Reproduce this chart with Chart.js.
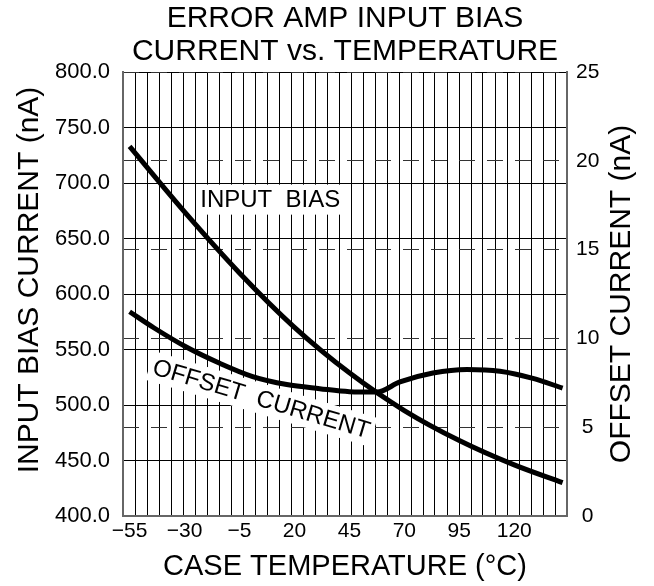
<!DOCTYPE html>
<html>
<head>
<meta charset="utf-8">
<script src="https://cdn.jsdelivr.net/npm/chart.js@4.4.1/dist/chart.umd.min.js"></script>
<style>
  html, body { margin: 0; padding: 0; background: #fff; }
  #wrap { width: 654px; height: 586px; }
</style>
</head>
<body>
<div id="wrap"><canvas id="chart" width="654" height="586"></canvas></div>
<script>
// curves
const biasTemps = [-55, -30, -5, 20, 45, 70, 95, 120, 142];
const biasCurrent = [733, 674, 619, 570, 529, 495, 468, 446, 430]; // nA (left axis)
const offsetTemps = [-55, -44, -29, -14, 1, 16.5, 31.5, 45, 57.5, 68, 83, 98.5, 113.5, 128.5, 142];
const offsetCurrent = [11.5, 10.6, 9.5, 8.6, 7.85, 7.4, 7.17, 7.0, 6.98, 7.55, 8.05, 8.25, 8.15, 7.75, 7.2]; // nA (right axis)

const tempTicks = [-55, -30, -5, 20, 45, 70, 95, 120];
const biasTicks = [400, 450, 500, 550, 600, 650, 700, 750, 800];
const offsetTicks = [0, 5, 10, 15, 20, 25];

const FONT = '"Liberation Sans", Arial, sans-serif';
const X_MIN = -58, X_MAX = 144, GRID_COUNT = 37;

// vertical grid lines are evenly spaced and don't line up with the labels
const gridVals = [];
for (let k = 0; k <= GRID_COUNT; k++) gridVals.push(X_MIN + k * (X_MAX - X_MIN) / GRID_COUNT);

function minus(v) {
  return v < 0 ? '\u2212' + Math.abs(v) : String(v);
}

// text with white box behind it (covers grid)
function boxedText(ctx, text, x, y, angle) {
  ctx.save();
  ctx.translate(x, y);
  ctx.rotate(angle);
  const w = ctx.measureText(text).width;
  ctx.fillStyle = '#fff';
  ctx.fillRect(-w / 2 - 4, -15, w + 8, 30);
  ctx.fillStyle = '#000';
  ctx.textAlign = 'center';
  ctx.textBaseline = 'middle';
  ctx.fillText(text, 0, 1);
  ctx.restore();
}

const labelsPlugin = {
  id: 'curveLabels',
  beforeDatasetsDraw(chart) {
    const { ctx, scales } = chart;
    ctx.save();
    ctx.font = '24px ' + FONT;
    boxedText(ctx, 'INPUT  BIAS', scales.x.getPixelForValue(9), scales.y.getPixelForValue(685), 0);
    boxedText(ctx, 'OFFSET  CURRENT', scales.x.getPixelForValue(5), scales.y2.getPixelForValue(6.6), 16.7 * Math.PI / 180);
    ctx.restore();
  },
  afterDraw(chart) {
    const { ctx, chartArea } = chart;
    const midY = (chartArea.top + chartArea.bottom) / 2;
    ctx.save();
    ctx.font = '30px ' + FONT;
    ctx.fillStyle = '#000';
    ctx.textAlign = 'center';
    ctx.textBaseline = 'middle';
    // left title
    ctx.save();
    ctx.translate(chartArea.left - 93, midY - 14);
    ctx.rotate(-Math.PI / 2);
    ctx.fillText('INPUT BIAS CURRENT (nA)', 0, 0);
    ctx.restore();
    // right title, reads bottom to top as well
    ctx.save();
    ctx.translate(chartArea.right + 55, midY);
    ctx.rotate(-Math.PI / 2);
    ctx.fillText('OFFSET CURRENT (nA)', 0, 0);
    ctx.restore();
    ctx.restore();
  }
};

new Chart(document.getElementById('chart'), {
  type: 'line',
  data: {
    datasets: [
      {
        label: 'INPUT BIAS',
        data: biasTemps.map((t, i) => ({ x: t, y: biasCurrent[i] })),
        yAxisID: 'y',
        borderColor: '#000',
        borderWidth: 5,
        borderCapStyle: 'butt',
        pointRadius: 0,
        cubicInterpolationMode: 'monotone',
        fill: false
      },
      {
        label: 'OFFSET CURRENT',
        data: offsetTemps.map((t, i) => ({ x: t, y: offsetCurrent[i] })),
        yAxisID: 'y2',
        borderColor: '#000',
        borderWidth: 5,
        borderCapStyle: 'butt',
        pointRadius: 0,
        cubicInterpolationMode: 'monotone',
        fill: false
      }
    ]
  },
  options: {
    responsive: false,
    animation: false,
    devicePixelRatio: 1,
    layout: { padding: 0 },
    plugins: {
      legend: { display: false },
      tooltip: { enabled: false },
      title: {
        display: true,
        fullSize: false,
        text: ['ERROR AMP INPUT BIAS', 'CURRENT vs. TEMPERATURE'],
        color: '#000',
        font: { family: FONT, size: 30, weight: 'normal', lineHeight: '33px' },
        padding: { top: 2, bottom: 4 }
      }
    },
    scales: {
      x: {
        type: 'linear',
        min: X_MIN,
        max: X_MAX,
        afterBuildTicks: axis => {
          axis.ticks = gridVals.concat(tempTicks).sort((a, b) => a - b).map(v => ({ value: v }));
        },
        afterFit: axis => { axis.height = 70; },
        ticks: {
          autoSkip: false,
          maxRotation: 0,
          padding: 3,
          color: '#000',
          font: { family: FONT, size: 21 },
          callback: v => tempTicks.includes(v) ? minus(v) : ''
        },
        grid: {
          drawTicks: false,
          lineWidth: 1,
          color: c => (c.tick && tempTicks.includes(c.tick.value)) ? 'rgba(0,0,0,0)' : '#000'
        },
        border: { color: '#666', width: 2 },
        title: {
          display: true,
          text: 'CASE TEMPERATURE (°C)',
          color: '#000',
          font: { family: FONT, size: 29 },
          padding: { top: 0, bottom: 2 }
        }
      },
      y: {
        position: 'left',
        min: 400,
        max: 800,
        afterBuildTicks: axis => { axis.ticks = biasTicks.map(v => ({ value: v })); },
        afterFit: axis => { axis.width = 123; },
        ticks: {
          padding: 13,
          color: '#000',
          font: { family: FONT, size: 22 },
          callback: v => v.toFixed(1)
        },
        grid: { drawTicks: false, color: '#000', lineWidth: 1 },
        border: { color: '#666', width: 2 }
      },
      y2: {
        position: 'right',
        min: 0,
        max: 25,
        afterBuildTicks: axis => { axis.ticks = offsetTicks.map(v => ({ value: v })); },
        afterFit: axis => { axis.width = 87; },
        ticks: {
          padding: 9,
          crossAlign: 'center',
          color: '#000',
          font: { family: FONT, size: 21 }
        },
        grid: { drawTicks: false, color: '#333', lineWidth: 1 },
        border: { color: '#666', width: 2, dash: [16, 12] }
      }
    }
  },
  plugins: [labelsPlugin]
});
</script>
</body>
</html>
